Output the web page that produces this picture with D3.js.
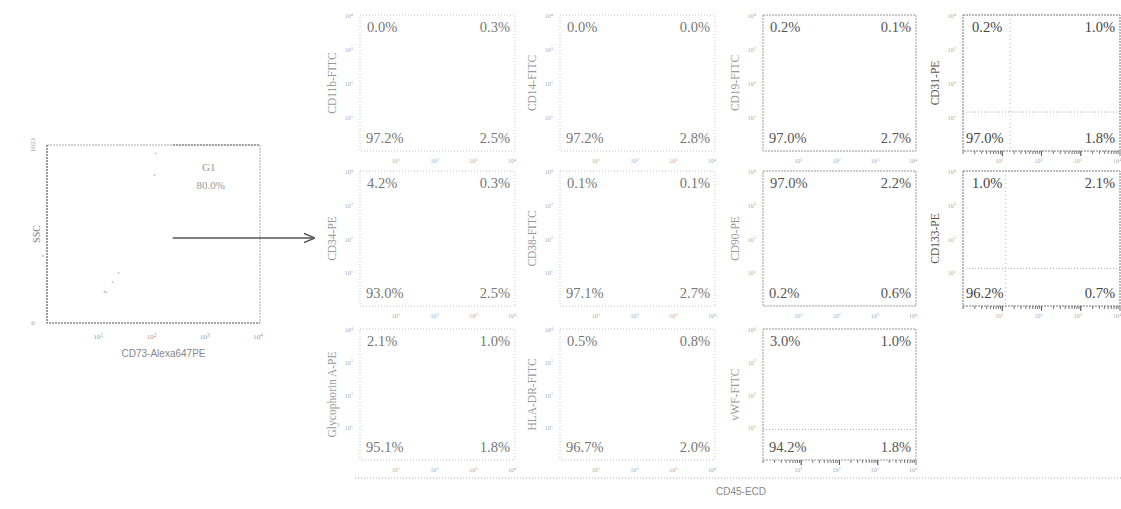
<!DOCTYPE html>
<html>
<head>
<meta charset="utf-8">
<script src="https://cdn.jsdelivr.net/npm/d3@7"></script>
<style>
  body { margin: 0; background: #fff; }
  svg { display: block; }
</style>
</head>
<body>
<div id="chart"></div>
<script>
// panel data (row by row, left to right)
const markers = ["CD11b-FITC", "CD14-FITC", "CD19-FITC", "CD31-PE",
                 "CD34-PE", "CD38-FITC", "CD90-PE", "CD133-PE",
                 "Glycophorin A-PE", "HLA-DR-FITC", "vWF-FITC"];
const upperLeft  = [0.0, 0.0, 0.2, 0.2, 4.2, 0.1, 97.0, 1.0, 2.1, 0.5, 3.0];
const upperRight = [0.3, 0.0, 0.1, 1.0, 0.3, 0.1, 2.2, 2.1, 1.0, 0.8, 1.0];
const lowerLeft  = [97.2, 97.2, 97.0, 97.0, 93.0, 97.1, 0.2, 96.2, 95.1, 96.7, 94.2];
const lowerRight = [2.5, 2.8, 2.7, 1.8, 2.5, 2.7, 0.6, 0.7, 1.8, 2.0, 1.8];
// quadrant gate positions (linear units on log axes), null = not drawn
const gateX = [null, null, null, 16, null, null, null, 12, null, null, null];
const gateY = [null, null, null, 14, null, null, null, 13, null, null, 8.5];
const logTicks = [10, 100, 1000, 10000];

// SSC vs CD73 gating plot
const gateName = "G1";
const gatePct = "80.0%";
const gateMinX = 230;
const sscTicks = [0, 1023];
const events = [[110, 975], [105, 850], [17, 235], [13, 175], [12, 180], [22, 288], [0.85, 385]];

const W = 1121, H = 509;
const svg = d3.select("#chart").append("svg").attr("width", W).attr("height", H);

const serif = "'Liberation Serif', 'DejaVu Serif', serif";
const sans = "'Liberation Sans', Arial, sans-serif";

function sup(sel, p) {
  sel.text("10");
  sel.append("tspan").attr("dy", -2.5).attr("font-size", "0.75em").text(p);
}

// ---------- left gating plot ----------
const L = { x: 47, y: 145, w: 213, h: 178 };
const lx = d3.scaleLog().domain([1, 10000]).range([L.x, L.x + L.w]);
const ly = d3.scaleLinear().domain([0, 1023]).range([L.y + L.h, L.y]);
const lg = svg.append("g");
lg.append("rect").attr("x", L.x).attr("y", L.y).attr("width", L.w).attr("height", L.h)
  .attr("fill", "none").attr("stroke", "#aaa").attr("stroke-width", 1).attr("stroke-dasharray", "2,1");
// darker left and bottom edges
lg.append("path").attr("d", `M${L.x},${L.y} V${L.y + L.h} H${L.x + L.w}`)
  .attr("fill", "none").attr("stroke", "#777").attr("stroke-width", 1.2).attr("stroke-dasharray", "2,1");
// gate region
lg.append("line").attr("x1", lx(gateMinX)).attr("x2", lx(10000)).attr("y1", L.y).attr("y2", L.y)
  .attr("stroke", "#666").attr("stroke-width", 1.2).attr("stroke-dasharray", "2,1");
lg.append("text").attr("x", lx(gateMinX) + 36).attr("y", L.y + 26).attr("text-anchor", "middle")
  .attr("font-family", serif).attr("font-size", 11).attr("fill", "#999").text(gateName);
lg.append("text").attr("x", lx(gateMinX) + 38).attr("y", L.y + 44).attr("text-anchor", "middle")
  .attr("font-family", serif).attr("font-size", 11).attr("fill", "#999").text(gatePct);
lg.selectAll("circle.ev").data(events).enter().append("circle")
  .attr("cx", d => lx(d[0])).attr("cy", d => ly(d[1])).attr("r", 0.9).attr("fill", "#bbb");
lg.selectAll("text.xt").data(logTicks).enter().append("text")
  .attr("x", d => lx(d) - 2).attr("y", L.y + L.h + 16).attr("text-anchor", "middle")
  .attr("font-family", serif).attr("font-size", 7).attr("fill", "#999")
  .each(function (d, i) { sup(d3.select(this), i + 1); });
lg.selectAll("text.yt").data(sscTicks).enter().append("text")
  .attr("transform", d => `translate(${L.x - 12},${ly(d)}) rotate(-90)`).attr("text-anchor", "middle")
  .attr("font-family", serif).attr("font-size", 7).attr("fill", "#999").text(d => d);
lg.append("text").attr("transform", `translate(40,${L.y + L.h / 2}) rotate(-90)`)
  .attr("text-anchor", "middle").attr("font-family", serif).attr("font-size", 10).attr("fill", "#777").text("SSC");
lg.append("text").attr("x", L.x + L.w / 2 + 10).attr("y", L.y + L.h + 34).attr("text-anchor", "middle")
  .attr("font-family", sans).attr("font-size", 10).attr("fill", "#888").text("CD73-Alexa647PE");

// arrow
svg.append("defs").append("marker").attr("id", "ah").attr("viewBox", "0 0 10 10")
  .attr("refX", 9).attr("refY", 5).attr("markerWidth", 7).attr("markerHeight", 7).attr("orient", "auto")
  .append("path").attr("d", "M0,1 L10,5 L0,9").attr("fill", "none").attr("stroke", "#555").attr("stroke-width", 1.3);
svg.append("line").attr("x1", lx(gateMinX)).attr("x2", 314).attr("y1", 238).attr("y2", 238)
  .attr("stroke", "#555").attr("stroke-width", 1.6).attr("marker-end", "url(#ah)");

// ---------- marker panels ----------
const colX = [360, 560, 763, 963];
const colW = [155, 155, 153, 157];
const rowY = [15, 171, 329];
const rowH = [136, 135, 131];
const colStroke = ["#c4c4c4", "#c4c4c4", "#999", "#777"];
const colText = ["#777", "#777", "#555", "#444"];

markers.forEach((name, i) => {
  const r = Math.floor(i / 4), c = i % 4;
  const x0 = colX[c], y0 = rowY[r], w = colW[c], h = rowH[r];
  const x = d3.scaleLog().domain([1, 10000]).range([x0, x0 + w]);
  const y = d3.scaleLog().domain([1, 10000]).range([y0 + h, y0]);
  const g = svg.append("g");
  g.append("rect").attr("x", x0).attr("y", y0).attr("width", w).attr("height", h)
    .attr("fill", "none").attr("stroke", colStroke[c]).attr("stroke-width", 1)
    .attr("stroke-dasharray", c < 2 ? "1,2" : "2,1");

  if (gateY[i] != null) {
    g.append("line").attr("x1", x0).attr("x2", x0 + w).attr("y1", y(gateY[i])).attr("y2", y(gateY[i]))
      .attr("stroke", "#aaa").attr("stroke-dasharray", "1,2");
  }
  if (gateX[i] != null) {
    g.append("line").attr("x1", x(gateX[i])).attr("x2", x(gateX[i])).attr("y1", y0).attr("y2", y0 + h)
      .attr("stroke", "#bbb").attr("stroke-dasharray", "1,3");
  }

  // ruler ticks on the darker panels
  if (c === 3 || i === 10) {
    const minor = [];
    for (let e = 0; e < 4; e++) for (let k = 1; k <= 10; k++) minor.push(k * Math.pow(10, e));
    g.selectAll("line.mt").data(minor).enter().append("line")
      .attr("x1", d => x(d)).attr("x2", d => x(d)).attr("y1", y0 + h).attr("y2", d => y0 + h + (logTicks.includes(d) ? 5 : 3))
      .attr("stroke", "#555").attr("stroke-width", 0.8);
  }

  // tick labels
  g.selectAll("text.xt").data(logTicks).enter().append("text")
    .attr("x", d => x(d) - 3).attr("y", y0 + h + 12).attr("text-anchor", "middle")
    .attr("font-family", serif).attr("font-size", 6).attr("fill", "#aaa")
    .each(function (d, k) { sup(d3.select(this), k + 1); });
  g.selectAll("text.yt").data(logTicks).enter().append("text")
    .attr("x", x0 - 7).attr("y", d => y(d) + 3).attr("text-anchor", "end")
    .attr("font-family", serif).attr("font-size", 6).attr("fill", "#aaa")
    .each(function (d, k) { sup(d3.select(this), k + 1); });

  // axis name
  g.append("text").attr("transform", `translate(${x0 - 24},${y0 + h / 2}) rotate(-90)`)
    .attr("text-anchor", "middle").attr("font-family", serif).attr("font-size", 11.5)
    .attr("fill", c === 3 ? "#555" : "#999").text(name);

  // quadrant percentages
  const fs = 14.5;
  const pct = v => v.toFixed(1) + "%";
  const t = (tx, ty, anchor, v) => g.append("text").attr("x", tx).attr("y", ty).attr("text-anchor", anchor)
    .attr("font-family", serif).attr("font-size", fs).attr("fill", colText[c]).text(pct(v));
  t(x0 + (c === 3 ? 9 : 7), y0 + 17, "start", upperLeft[i]);
  t(x0 + w - 5, y0 + 17, "end", upperRight[i]);
  t(x0 + (c === 3 ? 3 : 6), y0 + h - 8, "start", lowerLeft[i]);
  t(x0 + w - 5, y0 + h - 8, "end", lowerRight[i]);
});

// shared CD45 axis
svg.append("line").attr("x1", 355).attr("x2", W).attr("y1", 478).attr("y2", 478)
  .attr("stroke", "#aaa").attr("stroke-dasharray", "1,2");
svg.append("text").attr("x", 741).attr("y", 495).attr("text-anchor", "middle")
  .attr("font-family", sans).attr("font-size", 10).attr("fill", "#888").text("CD45-ECD");
</script>
</body>
</html>
